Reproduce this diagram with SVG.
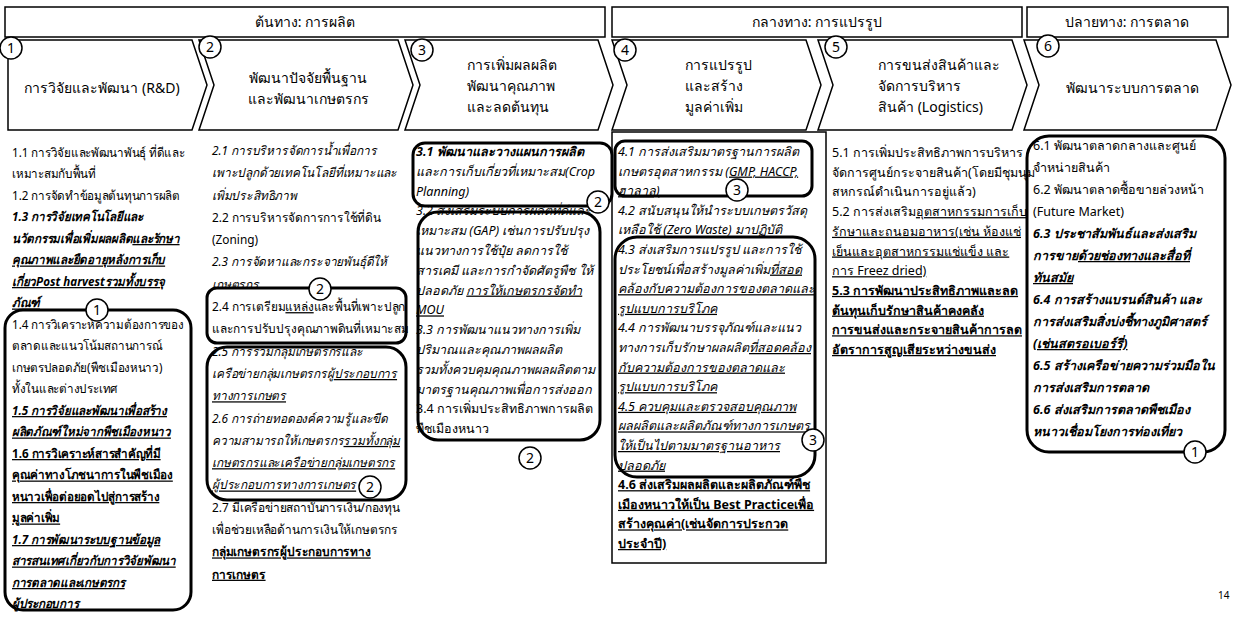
<svg xmlns="http://www.w3.org/2000/svg" width="1233" height="619" viewBox="0 0 1233 619">
<style>
text{font-family:"Noto Sans","DejaVu Sans",sans-serif;font-size:12.5px;fill:#000}
.h{font-size:14px}
.c{font-size:14px}
.i{font-style:italic}
.bi{font-style:italic;font-weight:bold}
.b{font-weight:bold}
.u{text-decoration:underline}
.hdr{fill:#fff;stroke:#000;stroke-width:1.5}
.chev{fill:#fff;stroke:#000;stroke-width:1.5}
.box{fill:none;stroke:#000;stroke-width:3}
.frame{fill:none;stroke:#000;stroke-width:1.5}
.num circle{fill:#fff;stroke:#000;stroke-width:1.5}
.num text{font-size:14px;text-anchor:middle}
.mid{text-anchor:middle}
.pg{font-size:10px}
</style>
<rect width="1233" height="619" fill="#fff"/>

<g id="header-source">
<rect class="hdr" x="5" y="7" width="600" height="30"/>
<text class="h mid" x="305" y="27">ต้นทาง: การผลิต</text>
</g>
<g id="header-midstream">
<rect class="hdr" x="612" y="7" width="410" height="30"/>
<text class="h mid" x="817" y="27">กลางทาง: การแปรรูป</text>
</g>
<g id="header-downstream">
<rect class="hdr" x="1027" y="7" width="201" height="30"/>
<text class="h mid" x="1127" y="27">ปลายทาง: การตลาด</text>
</g>

<g id="stage1">
<path class="chev" d="M8,40 L192,40 L207,85 L192,130 L8,130 Z"/>
<text class="c mid" x="102" y="93">การวิจัยและพัฒนา (R&amp;D)</text>
<g class="num"><circle cx="11" cy="48" r="11"/><text x="11" y="53">1</text></g>
</g>
<g id="stage2">
<path class="chev" d="M199,40 L398,40 L413,85 L398,130 L199,130 L214,85 Z"/>
<text class="c mid" x="308" y="83">พัฒนาปัจจัยพื้นฐาน</text>
<text class="c mid" x="308" y="104">และพัฒนาเกษตรกร</text>
<g class="num"><circle cx="210" cy="47" r="11"/><text x="210" y="52">2</text></g>
</g>
<g id="stage3">
<path class="chev" d="M405,40 L598,40 L613,85 L598,130 L405,130 L420,85 Z"/>
<text class="c" x="467" y="70">การเพิ่มผลผลิต</text>
<text class="c" x="467" y="91">พัฒนาคุณภาพ</text>
<text class="c" x="467" y="112">และลดต้นทุน</text>
<g class="num"><circle cx="422" cy="50" r="11"/><text x="422" y="55">3</text></g>
</g>
<g id="stage4">
<path class="chev" d="M612,40 L806,40 L821,85 L806,130 L612,130 L627,85 Z"/>
<text class="c" x="685" y="70">การแปรรูป</text>
<text class="c" x="685" y="91">และสร้าง</text>
<text class="c" x="685" y="112">มูลค่าเพิ่ม</text>
<g class="num"><circle cx="625" cy="50" r="11"/><text x="625" y="55">4</text></g>
</g>
<g id="stage5">
<path class="chev" d="M818,40 L1012,40 L1027,85 L1012,130 L818,130 L833,85 Z"/>
<text class="c" x="878" y="70">การขนส่งสินค้าและ</text>
<text class="c" x="878" y="91">จัดการบริหาร</text>
<text class="c" x="878" y="112">สินค้า (Logistics)</text>
<g class="num"><circle cx="836" cy="47" r="11"/><text x="836" y="52">5</text></g>
</g>
<g id="stage6">
<path class="chev" d="M1024,40 L1216,40 L1231,85 L1216,130 L1024,130 L1039,85 Z"/>
<text class="c mid" x="1132" y="93">พัฒนาระบบการตลาด</text>
<g class="num"><circle cx="1048" cy="46" r="11"/><text x="1048" y="51">6</text></g>
</g>

<g id="col1">
<rect class="box" x="5" y="310" width="186" height="300" rx="18"/>
<text x="12" y="157" transform="translate(12 0) scale(0.93 1) translate(-12 0)">
<tspan x="12" dy="0">1.1 การวิจัยและพัฒนาพันธุ์ ที่ดีและ</tspan>
<tspan x="12" dy="21.5">เหมาะสมกับพื้นที่</tspan>
<tspan x="12" dy="21.5">1.2 การจัดทำข้อมูลต้นทุนการผลิต</tspan>
<tspan x="12" dy="21.5" class="bi">1.3 การวิจัยเทคโนโลยีและ</tspan>
<tspan x="12" dy="21.5" class="bi">นวัตกรรมเพื่อเพิ่มผลผลิต</tspan><tspan class="bi u">และรักษา</tspan>
<tspan x="12" dy="21.5" class="bi u">คุณภาพและยืดอายุหลังการเก็บ</tspan>
<tspan x="12" dy="21.5" class="bi u">เกี่ยวPost harvestรวมทั้งบรรจุ</tspan>
<tspan x="12" dy="21.5" class="bi u">ภัณฑ์</tspan>
<tspan x="12" dy="21.5">1.4 การวิเคราะห์ความต้องการของ</tspan>
<tspan x="12" dy="21.5">ตลาดและแนวโน้มสถานการณ์</tspan>
<tspan x="12" dy="21.5">เกษตรปลอดภัย(พืชเมืองหนาว)</tspan>
<tspan x="12" dy="21.5">ทั้งในและต่างประเทศ</tspan>
<tspan x="12" dy="21.5" class="bi u">1.5 การวิจัยและพัฒนาเพื่อสร้าง</tspan>
<tspan x="12" dy="21.5" class="bi u">ผลิตภัณฑ์ใหม่จากพืชเมืองหนาว</tspan>
<tspan x="12" dy="21.5" class="b u">1.6 การวิเคราะห์สารสำคัญที่มี</tspan>
<tspan x="12" dy="21.5" class="b u">คุณค่าทางโภชนาการในพืชเมือง</tspan>
<tspan x="12" dy="21.5" class="b u">หนาวเพื่อต่อยอดไปสู่การสร้าง</tspan>
<tspan x="12" dy="21.5" class="b u">มูลค่าเพิ่ม</tspan>
<tspan x="12" dy="21.5" class="bi u">1.7 การพัฒนาระบบฐานข้อมูล</tspan>
<tspan x="12" dy="21.5" class="bi u">สารสนเทศเกี่ยวกับการวิจัยพัฒนา</tspan>
<tspan x="12" dy="21.5" class="bi u">การตลาดและเกษตรกร</tspan>
<tspan x="12" dy="21.5" class="bi">ผู้ประกอบการ</tspan>
</text>
<g class="num"><circle cx="97" cy="310" r="11"/><text x="97" y="315">1</text></g>
</g>

<g id="col2">
<rect class="box" x="207" y="288" width="199" height="55" rx="10"/>
<rect class="box" x="207" y="347" width="199" height="153" rx="20"/>
<text x="212" y="155" transform="translate(212 0) scale(0.95 1) translate(-212 0)">
<tspan x="212" dy="0" class="i">2.1 การบริหารจัดการน้ำเพื่อการ</tspan>
<tspan x="212" dy="22.3" class="i">เพาะปลูกด้วยเทคโนโลยีที่เหมาะและ</tspan>
<tspan x="212" dy="22.3" class="i">เพิ่มประสิทธิภาพ</tspan>
<tspan x="212" dy="22.3">2.2 การบริหารจัดการการใช้ที่ดิน</tspan>
<tspan x="212" dy="22.3">(Zoning)</tspan>
<tspan x="212" dy="22.3" class="i">2.3 การจัดหาและกระจายพันธุ์ดีให้</tspan>
<tspan x="212" dy="22.3" class="i">เกษตรกร</tspan>
<tspan x="212" dy="22.3">2.4 การเตรียม</tspan><tspan class="u">แหล่ง</tspan><tspan>และพื้นที่เพาะปลูก</tspan>
<tspan x="212" dy="22.3">และการปรับปรุงคุณภาพดินที่เหมาะสม</tspan>
<tspan x="212" dy="22.3" class="i">2.5 การรวมกลุ่มเกษตรกรและ</tspan>
<tspan x="212" dy="22.3" class="i">เครือข่ายกลุ่มเกษตรกรผู้</tspan><tspan class="i u">ประกอบการ</tspan>
<tspan x="212" dy="22.3" class="i u">ทางการเกษตร</tspan>
<tspan x="212" dy="22.3" class="i">2.6 การถ่ายทอดองค์ความรู้และขีด</tspan>
<tspan x="212" dy="22.3" class="i">ความสามารถให้เกษตรกร</tspan><tspan class="i u">รวมทั้งกลุ่ม</tspan>
<tspan x="212" dy="22.3" class="i u">เกษตรกรและเครือข่ายกลุ่มเกษตรกร</tspan>
<tspan x="212" dy="22.3" class="i u">ผู้ประกอบการทางการเกษตร</tspan>
<tspan x="212" dy="22.3">2.7 มีเครือข่ายสถาบันการเงิน/กองทุน</tspan>
<tspan x="212" dy="22.3">เพื่อช่วยเหลือด้านการเงินให้เกษตรกร</tspan>
<tspan x="212" dy="22.3" class="b u">กลุ่มเกษตรกรผู้ประกอบการทาง</tspan>
<tspan x="212" dy="22.3" class="b u">การเกษตร</tspan>
</text>
<g class="num"><circle cx="320" cy="289" r="11"/><text x="320" y="294">2</text></g>
<g class="num"><circle cx="370" cy="487" r="11"/><text x="370" y="492">2</text></g>
</g>

<g id="col3">
<rect class="box" x="413" y="143" width="199" height="63" rx="12"/>
<rect class="box" x="418" y="212" width="182" height="228" rx="20"/>
<text x="416" y="156">
<tspan x="416" dy="0" class="bi">3.1 พัฒนาและวางแผนการผลิต</tspan>
<tspan x="416" dy="19.8" class="i">และการเก็บเกี่ยวที่เหมาะสม(Crop</tspan>
<tspan x="416" dy="19.8" class="i">Planning)</tspan>
<tspan x="416" dy="19.8" class="i">3.2 ส่งเสริมระบบการผลิตที่ดีและ</tspan>
<tspan x="416" dy="19.8" class="i">เหมาะสม (GAP) เช่นการปรับปรุง</tspan>
<tspan x="416" dy="19.8" class="i">แนวทางการใช้ปุ๋ย ลดการใช้</tspan>
<tspan x="416" dy="19.8" class="i">สารเคมี และการกำจัดศัตรูพืช ให้</tspan>
<tspan x="416" dy="19.8" class="i">ปลอดภัย </tspan><tspan class="i u">การให้เกษตรกรจัดทำ</tspan>
<tspan x="416" dy="19.8" class="i u">MOU</tspan>
<tspan x="416" dy="19.8" class="i">3.3 การพัฒนาแนวทางการเพิ่ม</tspan>
<tspan x="416" dy="19.8" class="i">ปริมาณและคุณภาพผลผลิต</tspan>
<tspan x="416" dy="19.8" class="i">รวมทั้งควบคุมคุณภาพผลผลิตตาม</tspan>
<tspan x="416" dy="19.8" class="i">มาตรฐานคุณภาพเพื่อการส่งออก</tspan>
<tspan x="416" dy="19.8">3.4 การเพิ่มประสิทธิภาพการผลิต</tspan>
<tspan x="416" dy="19.8">พืชเมืองหนาว</tspan>
</text>
<g class="num"><circle cx="598" cy="202" r="11"/><text x="598" y="207">2</text></g>
<g class="num"><circle cx="530" cy="458" r="11"/><text x="530" y="463">2</text></g>
</g>

<g id="col4">
<rect class="frame" x="612" y="132" width="214" height="431"/>
<rect class="box" x="615" y="141" width="197" height="55" rx="10"/>
<rect class="box" x="615" y="237" width="200" height="240" rx="22"/>
<text x="618" y="156">
<tspan x="618" dy="0" class="i">4.1 การส่งเสริมมาตรฐานการผลิต</tspan>
<tspan x="618" dy="19.6" class="i">เกษตรอุตสาหกรรม </tspan><tspan class="i u">(GMP, HACCP,</tspan>
<tspan x="618" dy="19.6" class="i u">ฮาลาล)</tspan>
<tspan x="618" dy="19.6" class="i">4.2 สนับสนุนให้นำระบบเกษตรวัสดุ</tspan>
<tspan x="618" dy="19.6" class="i">เหลือใช้ (Zero Waste) มาปฏิบัติ</tspan>
<tspan x="618" dy="19.6" class="i">4.3 ส่งเสริมการแปรรูป และการใช้</tspan>
<tspan x="618" dy="19.6" class="i">ประโยชน์เพื่อสร้างมูลค่าเพิ่ม</tspan><tspan class="i u">ที่สอด</tspan>
<tspan x="618" dy="19.6" class="i u">คล้องกับความต้องการของตลาดและ</tspan>
<tspan x="618" dy="19.6" class="i u">รูปแบบการบริโภค</tspan>
<tspan x="618" dy="19.6" class="i">4.4 การพัฒนาบรรจุภัณฑ์และแนว</tspan>
<tspan x="618" dy="19.6" class="i">ทางการเก็บรักษาผลผลิต</tspan><tspan class="i u">ที่สอดคล้อง</tspan>
<tspan x="618" dy="19.6" class="i u">กับความต้องการของตลาดและ</tspan>
<tspan x="618" dy="19.6" class="i u">รูปแบบการบริโภค</tspan>
<tspan x="618" dy="19.6" class="i u">4.5 ควบคุมและตรวจสอบคุณภาพ</tspan>
<tspan x="618" dy="19.6" class="i u">ผลผลิตและผลิตภัณฑ์ทางการเกษตร</tspan>
<tspan x="618" dy="19.6" class="i u">ให้เป็นไปตามมาตรฐานอาหาร</tspan>
<tspan x="618" dy="19.6" class="i u">ปลอดภัย</tspan>
<tspan x="618" dy="19.6" class="b u">4.6 ส่งเสริมผลผลิตและผลิตภัณฑ์พืช</tspan>
<tspan x="618" dy="19.6" class="b u">เมืองหนาวให้เป็น Best Practiceเพื่อ</tspan>
<tspan x="618" dy="19.6" class="b u">สร้างคุณค่า(เช่นจัดการประกวด</tspan>
<tspan x="618" dy="19.6" class="b u">ประจำปี)</tspan>
</text>
<g class="num"><circle cx="737" cy="190" r="11"/><text x="737" y="195">3</text></g>
<g class="num"><circle cx="813" cy="440" r="11"/><text x="813" y="445">3</text></g>
</g>

<g id="col5">
<text x="832" y="157">
<tspan x="832" dy="0">5.1 การเพิ่มประสิทธิภาพการบริหาร</tspan>
<tspan x="832" dy="19.7">จัดการศูนย์กระจายสินค้า(โดยมีชุมนุม</tspan>
<tspan x="832" dy="19.7">สหกรณ์ดำเนินการอยู่แล้ว)</tspan>
<tspan x="832" dy="19.7">5.2 การส่งเสริม</tspan><tspan class="u">อุตสาหกรรมการเก็บ</tspan>
<tspan x="832" dy="19.7" class="u">รักษาและถนอมอาหาร(เช่น ห้องแช่</tspan>
<tspan x="832" dy="19.7" class="u">เย็นและอุตสาหกรรมแช่แข็ง และ</tspan>
<tspan x="832" dy="19.7" class="u">การ Freez dried)</tspan>
<tspan x="832" dy="19.7" class="b u">5.3 การพัฒนาประสิทธิภาพและลด</tspan>
<tspan x="832" dy="19.7" class="b u">ต้นทุนเก็บรักษาสินค้าคงคลัง</tspan>
<tspan x="832" dy="19.7" class="b u">การขนส่งและกระจายสินค้าการลด</tspan>
<tspan x="832" dy="19.7" class="b u">อัตราการสูญเสียระหว่างขนส่ง</tspan>
</text>
</g>

<g id="col6">
<rect class="box" x="1027" y="136" width="198" height="316" rx="22"/>
<text x="1033" y="150">
<tspan x="1033" dy="0">6.1 พัฒนาตลาดกลางและศูนย์</tspan>
<tspan x="1033" dy="22">จำหน่ายสินค้า</tspan>
<tspan x="1033" dy="22">6.2 พัฒนาตลาดซื้อขายล่วงหน้า</tspan>
<tspan x="1033" dy="22">(Future Market)</tspan>
<tspan x="1033" dy="22" class="bi">6.3 ประชาสัมพันธ์และส่งเสริม</tspan>
<tspan x="1033" dy="22" class="bi">การขาย</tspan><tspan class="bi u">ด้วยช่องทางและสื่อที่</tspan>
<tspan x="1033" dy="22" class="bi u">ทันสมัย</tspan>
<tspan x="1033" dy="22" class="bi">6.4 การสร้างแบรนด์สินค้า และ</tspan>
<tspan x="1033" dy="22" class="bi">การส่งเสริมสิ่งบ่งชี้ทางภูมิศาสตร์</tspan>
<tspan x="1033" dy="22" class="bi u">(เช่นสตรอเบอร์รี่)</tspan>
<tspan x="1033" dy="22" class="bi">6.5 สร้างเครือข่ายความร่วมมือใน</tspan>
<tspan x="1033" dy="22" class="bi">การส่งเสริมการตลาด</tspan>
<tspan x="1033" dy="22" class="bi">6.6 ส่งเสริมการตลาดพืชเมือง</tspan>
<tspan x="1033" dy="22" class="bi">หนาวเชื่อมโยงการท่องเที่ยว</tspan>
</text>
<g class="num"><circle cx="1195" cy="452" r="11"/><text x="1195" y="457">1</text></g>
</g>

<g id="connectors"></g>
<text class="pg" x="1218" y="599">14</text>
</svg>
